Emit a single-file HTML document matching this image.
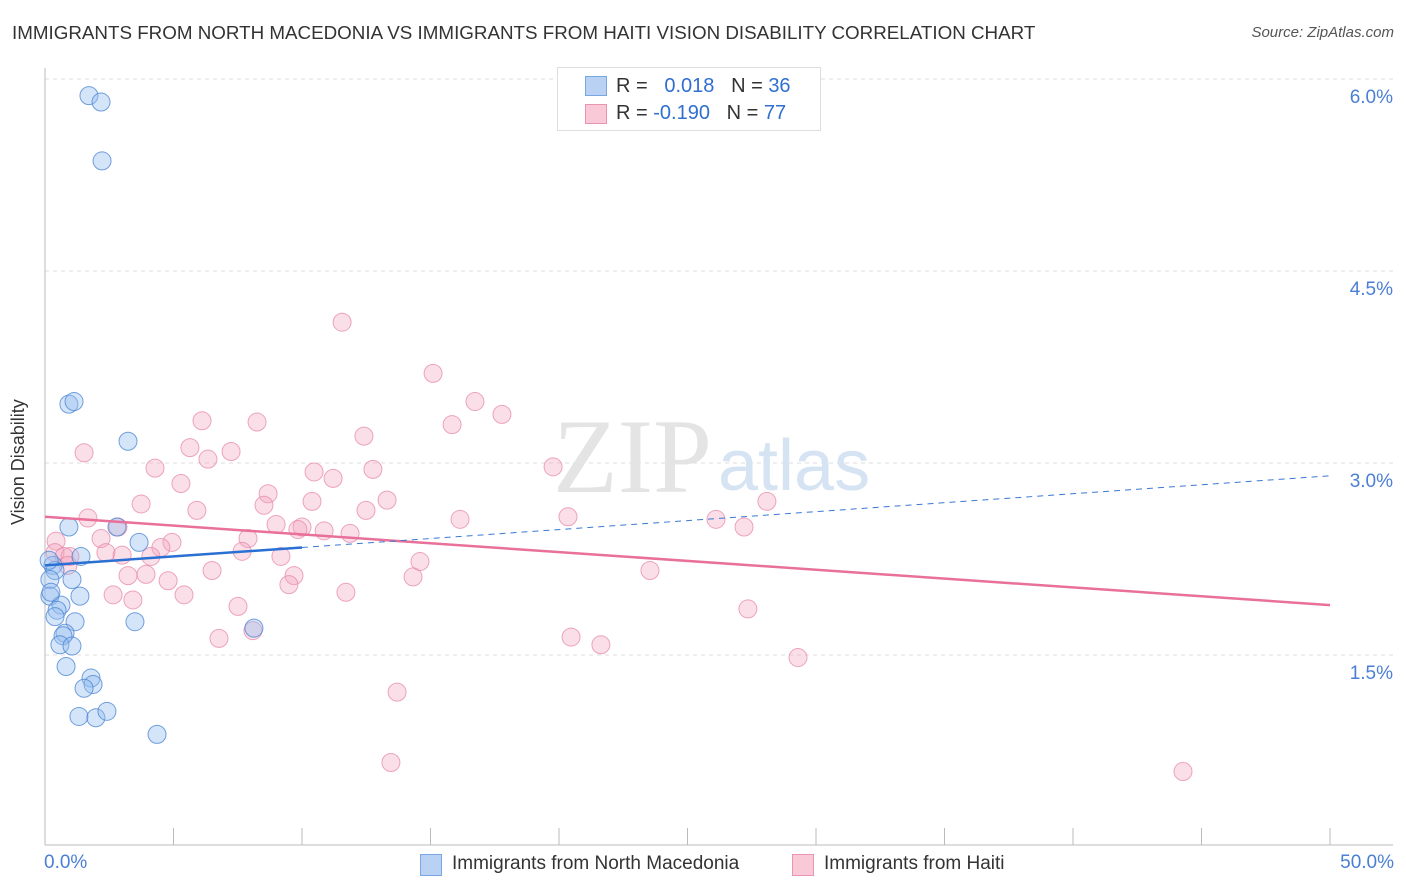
<!DOCTYPE html>
<html><head><meta charset="utf-8">
<style>
body{margin:0;background:#fff;font-family:"Liberation Sans",sans-serif;}
#wrap{position:relative;width:1406px;height:892px;overflow:hidden;}
.t{position:absolute;white-space:nowrap;}
</style></head><body>
<div id="wrap">
<div class="t" style="left:12px;top:22px;font-size:18.8px;color:#333;">IMMIGRANTS FROM NORTH MACEDONIA VS IMMIGRANTS FROM HAITI VISION DISABILITY CORRELATION CHART</div>
<div class="t" style="right:12px;top:24px;font-size:15px;color:#555;font-style:italic;">Source: ZipAtlas.com</div>
<svg id="svg" width="1406" height="892" style="position:absolute;left:0;top:0"></svg>
</div>
<script>
const blueX=[1.71,2.18,2.22,0.93,1.13,3.23,0.93,2.80,3.66,1.40,0.31,0.39,0.19,1.05,1.36,0.19,0.62,0.47,0.39,1.17,3.50,0.78,0.70,0.58,1.05,0.82,1.79,1.87,1.52,1.32,1.98,2.41,4.36,8.13,0.16,0.23];
const blueY=[5.87,5.82,5.36,3.46,3.48,3.17,2.50,2.50,2.38,2.27,2.20,2.16,2.09,2.09,1.96,1.96,1.89,1.85,1.80,1.76,1.76,1.67,1.65,1.58,1.57,1.41,1.32,1.27,1.24,1.02,1.01,1.06,0.88,1.71,2.24,1.99];
const pinkX=[11.56,15.10,16.73,17.78,6.11,8.25,15.84,12.41,1.52,5.64,7.24,6.34,4.28,10.47,12.76,19.77,11.21,5.29,8.68,13.31,3.74,8.52,10.39,5.91,12.49,28.09,1.67,16.15,20.35,26.11,2.84,8.99,10.00,27.20,9.84,11.87,10.86,2.18,4.94,7.90,0.43,4.51,2.37,7.67,0.39,3.00,0.97,0.74,4.12,14.59,9.18,0.89,6.50,3.23,3.93,9.69,14.32,23.54,4.79,9.49,2.65,5.41,11.71,3.42,7.51,27.35,6.77,8.09,20.47,21.63,29.30,13.70,13.46,44.28];
const pinkY=[4.10,3.70,3.48,3.38,3.33,3.32,3.30,3.21,3.08,3.12,3.09,3.03,2.96,2.93,2.95,2.97,2.88,2.84,2.76,2.71,2.68,2.67,2.70,2.63,2.63,2.70,2.57,2.56,2.58,2.56,2.50,2.52,2.50,2.50,2.48,2.45,2.47,2.41,2.38,2.41,2.39,2.34,2.30,2.31,2.30,2.28,2.27,2.27,2.27,2.23,2.27,2.20,2.16,2.12,2.13,2.12,2.11,2.16,2.08,2.05,1.97,1.97,1.99,1.93,1.88,1.86,1.63,1.69,1.64,1.58,1.48,1.21,0.66,0.59];
const yTicks=[1.5,3.0,4.5,6.0];
const yTickLabels=["1.5%","3.0%","4.5%","6.0%"];
const blueTrend=[2.20,2.90];
const pinkTrend=[2.58,1.89];
const blueSolidEnd=10;

const NS="http://www.w3.org/2000/svg";
const svg=document.getElementById('svg');
const X=v=>45+v/50*1285;
const Y=v=>847-v*128;
function mk(tag,attrs){const e=document.createElementNS(NS,tag);for(const k in attrs)e.setAttribute(k,attrs[k]);svg.appendChild(e);return e;}

yTicks.forEach((t,i)=>{
  const g=mk('line',{x1:45,x2:1393,y1:Y(t),y2:Y(t),stroke:'#ddd','stroke-dasharray':'4,4'});
  
  
  const tx=mk('text',{x:1393,y:Y(t)+24,'text-anchor':'end','font-size':19,fill:'#4a7fd4','font-family':'Liberation Sans, sans-serif'});
  tx.textContent=yTickLabels[i];
  
  
});
const ya=mk('line',{x1:45,x2:45,y1:68,y2:845,stroke:'#bbb'});


const xa=mk('line',{x1:45,x2:1393,y1:845,y2:845,stroke:'#bbb'});


for(let i=0;i<=10;i++){
  const tk=mk('line',{x1:X(i*5),x2:X(i*5),y1:828,y2:845,stroke:'#bbb'});
  
  
}
const wm1=mk('text',{x:553,y:492,'font-size':106,fill:'#e4e4e4','font-family':'Liberation Serif, serif'});wm1.textContent='ZIP';


const wm2=mk('text',{x:718,y:490,'font-size':72,fill:'#d5e3f3','font-family':'Liberation Sans, sans-serif'});wm2.textContent='atlas';



pinkX.forEach((x,i)=>{
  const c=mk('circle',{cx:X(x),cy:Y(pinkY[i]),r:9,fill:'rgba(244,164,190,0.35)',stroke:'rgba(230,130,165,0.7)','stroke-width':1});
  
  
});
blueX.forEach((x,i)=>{
  const c=mk('circle',{cx:X(x),cy:Y(blueY[i]),r:9,fill:'rgba(150,190,240,0.4)',stroke:'rgba(70,130,210,0.75)','stroke-width':1});
  
  
});
const bAt=v=>blueTrend[0]+(blueTrend[1]-blueTrend[0])*v/50;
const pl=mk('line',{x1:X(0),y1:Y(pinkTrend[0]),x2:X(50),y2:Y(pinkTrend[1]),stroke:'#e8709a','stroke-width':2.5});


const bd=mk('line',{x1:X(blueSolidEnd),y1:Y(bAt(blueSolidEnd)),x2:X(50),y2:Y(bAt(50)),stroke:'#3a78d4','stroke-width':1,'stroke-dasharray':'6,5'});


const bl=mk('line',{x1:X(0),y1:Y(bAt(0)),x2:X(blueSolidEnd),y2:Y(bAt(blueSolidEnd)),stroke:'#2a6fd2','stroke-width':2.5});


</script>
<div class="t" style="left:44px;top:852px;font-size:19px;color:#4a7fd4;">0.0%</div>
<div class="t" style="right:12px;top:852px;font-size:19px;color:#4a7fd4;">50.0%</div>
<div class="t" style="left:8px;top:525px;font-size:18px;color:#333;transform:rotate(-90deg);transform-origin:0 0;">Vision Disability</div>

<div style="position:absolute;left:557px;top:67px;width:262px;height:62px;border:1px solid #ddd;background:#fff;">
 <div style="position:absolute;left:27px;top:8px;width:20px;height:18px;background:#b9d2f4;border:1px solid #7aa7e4;"></div>
 <div style="position:absolute;left:27px;top:36px;width:20px;height:18px;background:#f9c9d7;border:1px solid #eb93b0;"></div>
 <div class="t" style="left:58px;top:7px;font-size:20px;color:#333;">R = &nbsp;<span style="color:#2f6fd0">&nbsp;0.018</span>&nbsp;&nbsp;&nbsp;N = <span style="color:#2f6fd0">36</span></div>
 <div class="t" style="left:58px;top:34px;font-size:20px;color:#333;">R = <span style="color:#2f6fd0">-0.190</span>&nbsp;&nbsp;&nbsp;N = <span style="color:#2f6fd0">77</span></div>
</div>

<div style="position:absolute;left:420px;top:854px;width:20px;height:20px;background:#b9d2f4;border:1px solid #7aa7e4;"></div>
<div class="t" style="left:452px;top:853px;font-size:19px;color:#333;">Immigrants from North Macedonia</div>
<div style="position:absolute;left:792px;top:854px;width:20px;height:20px;background:#f9c9d7;border:1px solid #eb93b0;"></div>
<div class="t" style="left:824px;top:853px;font-size:19px;color:#333;">Immigrants from Haiti</div>
</body></html>
